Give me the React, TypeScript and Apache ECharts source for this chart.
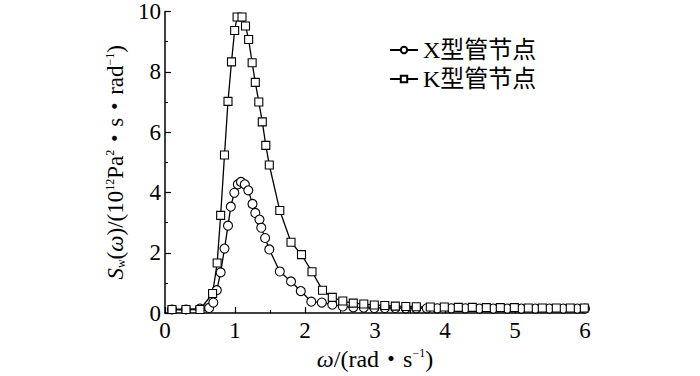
import React, { useEffect, useRef } from "react";
import * as echarts from "echarts";

// X型管节点 (circles)
const xOmega = [0.1, 0.3, 0.5, 0.63, 0.69, 0.74, 0.795, 0.85, 0.9, 0.94, 0.99, 1.04, 1.085, 1.14, 1.19, 1.25, 1.29, 1.35, 1.375, 1.43, 1.49, 1.64, 1.8, 1.94, 2.09, 2.24, 2.39, 2.54, 2.69, 2.84, 2.99, 3.14, 3.29, 3.44, 3.59, 3.74, 3.89, 4.09, 4.29, 4.49, 4.69, 4.89, 5.09, 5.29, 5.49, 5.69, 5.89, 6.0];
const xSw = [0.12, 0.12, 0.15, 0.17, 0.35, 0.76, 1.35, 2.14, 2.9, 3.53, 3.99, 4.27, 4.35, 4.27, 4.07, 3.62, 3.32, 3.1, 2.83, 2.49, 2.11, 1.38, 1.05, 0.73, 0.38, 0.35, 0.28, 0.22, 0.19, 0.18, 0.17, 0.17, 0.17, 0.16, 0.16, 0.16, 0.16, 0.16, 0.16, 0.15, 0.15, 0.15, 0.15, 0.15, 0.15, 0.15, 0.15, 0.15];

// K型管节点 (squares)
const kOmega = [0.1, 0.3, 0.5, 0.68, 0.745, 0.795, 0.85, 0.9, 0.95, 0.995, 1.03, 1.1, 1.15, 1.195, 1.245, 1.29, 1.34, 1.39, 1.44, 1.49, 1.64, 1.8, 1.95, 2.1, 2.25, 2.39, 2.54, 2.69, 2.84, 2.99, 3.14, 3.29, 3.44, 3.59, 3.79, 3.99, 4.19, 4.39, 4.59, 4.79, 4.99, 5.19, 5.39, 5.59, 5.79, 5.99];
const kSw = [0.12, 0.12, 0.12, 0.65, 1.66, 3.24, 5.24, 7.02, 8.33, 9.37, 9.82, 9.82, 9.52, 9.07, 8.3, 7.65, 7.0, 6.34, 5.56, 4.91, 3.4, 2.35, 1.94, 1.37, 0.76, 0.52, 0.4, 0.33, 0.3, 0.27, 0.25, 0.23, 0.22, 0.21, 0.2, 0.2, 0.19, 0.19, 0.18, 0.18, 0.18, 0.17, 0.17, 0.17, 0.17, 0.17];

const seriesNames = ["X型管节点", "K型管节点"];
const xTicks = { min: 0, max: 6, interval: 1 };
const yTicks = { min: 0, max: 10, interval: 2 };

const SERIF = "'Liberation Serif', 'Times New Roman', 'Noto Sans CJK SC', serif";

export default function App() {
  const ref = useRef<HTMLDivElement>(null);
  useEffect(() => {
    if (!ref.current) return;
    const chart = echarts.init(ref.current, undefined, { renderer: "svg" });
    const mk = (xs: number[], ys: number[]) => xs.map((x, i) => [x, ys[i]]);
    const base = { fontFamily: SERIF, color: "#000" };
    const richX = {
      r: { ...base, fontSize: 24 },
      i: { ...base, fontSize: 24, fontStyle: "italic" },
      sup: { ...base, fontSize: 12, verticalAlign: "top", lineHeight: 12 },
    };
    const richY = {
      r: { ...base, fontSize: 23 },
      i: { ...base, fontSize: 23, fontStyle: "italic" },
      sup: { ...base, fontSize: 12, verticalAlign: "top", lineHeight: 12 },
      sub: { ...base, fontSize: 12, verticalAlign: "bottom", lineHeight: 12 },
    };
    chart.setOption({
      animation: false,
      grid: { left: 165, right: 115, top: 9, bottom: 58 },
      legend: {
        orient: "vertical",
        left: 384,
        top: 33,
        itemWidth: 28,
        itemHeight: 8,
        itemGap: 5,
        textStyle: { fontFamily: SERIF, fontSize: 24, color: "#000" },
        data: seriesNames,
      },
      xAxis: {
        type: "value",
        ...xTicks,
        name: "{i|ω}{r|/(rad・s}{sup|−1}{r|)}",
        nameLocation: "middle",
        nameGap: 26,
        nameTextStyle: { rich: richX },
        axisLine: { lineStyle: { color: "#000", width: 1.5 } },
        axisTick: { inside: true, length: 6, lineStyle: { color: "#000", width: 1.2 } },
        minorTick: { show: true, splitNumber: 2, length: 3, lineStyle: { color: "#000", width: 1 } },
        splitLine: { show: false },
        axisLabel: { fontFamily: SERIF, fontSize: 23, color: "#000", margin: 6 },
      },
      yAxis: {
        type: "value",
        ...yTicks,
        name: "{i|S}{sub|w}{r|(}{i|ω}{r|)/(10}{sup|12}{r|Pa}{sup|2}{r|・s・rad}{sup|−1}{r|)}",
        nameLocation: "middle",
        nameRotate: 90,
        nameGap: 27,
        nameTextStyle: { rich: richY },
        axisLine: { lineStyle: { color: "#000", width: 1.5 } },
        axisTick: { inside: true, length: 6, lineStyle: { color: "#000", width: 1.2 } },
        minorTick: { show: true, splitNumber: 2, length: 3, lineStyle: { color: "#000", width: 1 } },
        splitLine: { show: false },
        axisLabel: { fontFamily: SERIF, fontSize: 23, color: "#000", margin: 4 },
      },
      series: [
        {
          name: seriesNames[0],
          type: "line",
          data: mk(xOmega, xSw),
          symbol: "circle",
          symbolSize: 9,
          lineStyle: { color: "#000", width: 1.3 },
          itemStyle: { color: "#fff", borderColor: "#000", borderWidth: 1.1 },
        },
        {
          name: seriesNames[1],
          type: "line",
          data: mk(kOmega, kSw),
          symbol: "rect",
          symbolSize: 8,
          lineStyle: { color: "#000", width: 1.3 },
          itemStyle: { color: "#fff", borderColor: "#000", borderWidth: 1.1 },
        },
      ],
    });
    return () => chart.dispose();
  }, []);
  return (
    <div
      ref={ref}
      style={{ position: "fixed", left: 0, top: 0, width: 700, height: 376, background: "#fff" }}
    />
  );
}
